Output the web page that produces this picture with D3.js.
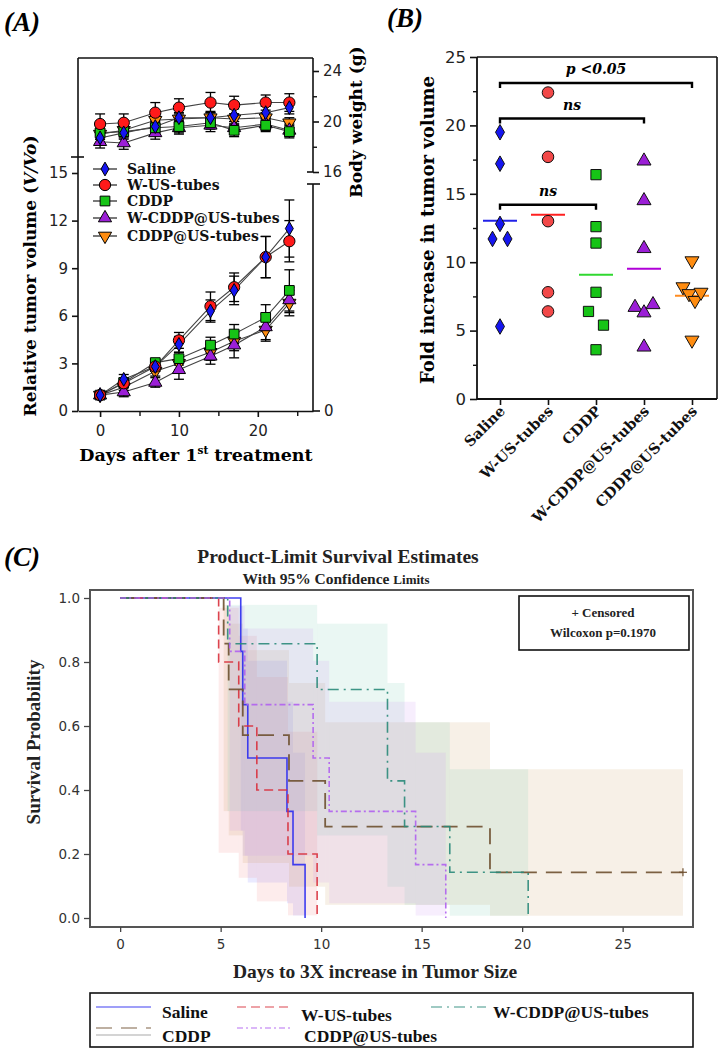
<!DOCTYPE html>
<html><head><meta charset="utf-8">
<script src="https://cdn.jsdelivr.net/npm/d3@7"></script>
<style>body{margin:0;background:#fff} svg{display:block}</style>
</head><body><svg id="c" width="719" height="1050"></svg>
<script>
// ================= DATA =================
const groups = ["Saline","W-US-tubes","CDDP","W-CDDP@US-tubes","CDDP@US-tubes"];
// Panel A: relative tumor volume & body weight
const days = [0,3,7,10,14,17,21,24];
const volSaline   = [1.0,2.0,2.8,4.2,6.3,7.6,9.7,11.5];
const volWUS      = [1.0,1.75,2.8,4.45,6.6,7.8,9.7,10.7];
const volCDDP     = [1.0,1.8,3.05,3.3,4.15,4.85,5.9,7.6];
const volWCDDPUS  = [1.0,1.2,1.8,2.6,3.45,4.15,5.3,7.0];
const volCDDPUS   = [1.0,1.5,2.5,3.0,3.7,4.4,5.1,6.8];
const volErrSaline  = [0.1,0.3,0.3,0.5,0.7,0.9,1.3,1.8];
const volErrWUS     = [0.1,0.3,0.3,0.5,0.9,0.9,1.3,1.3];
const volErrCDDP    = [0.1,0.2,0.2,0.4,0.5,0.6,0.8,1.3];
const volErrWCDDPUS = [0.1,0.3,0.3,0.6,0.5,0.8,0.8,0.8];
const volErrCDDPUS  = [0.1,0.2,0.3,0.4,0.5,0.6,0.7,0.8];
const wSaline   = [18.7,19.1,19.6,20.3,20.3,20.5,20.7,21.1];
const wWUS      = [19.8,19.9,20.7,21.1,21.5,21.3,21.5,21.5];
const wCDDP     = [19.1,19.2,19.5,19.6,19.9,19.3,19.7,19.2];
const wWCDDPUS  = [18.4,18.3,19.1,19.5,19.7,19.5,19.8,19.3];
const wCDDPUS   = [19.0,19.3,20.1,20.2,20.3,20.2,20.3,19.9];
const wErrSaline  = [0.5,0.5,0.5,0.4,0.5,0.5,0.5,0.5];
const wErrWUS     = [0.8,0.7,0.8,0.7,0.8,0.7,0.6,0.7];
const wErrCDDP    = [0.5,0.5,0.5,0.5,0.5,0.5,0.5,0.5];
const wErrWCDDPUS = [0.5,0.5,0.5,0.5,0.5,0.5,0.5,0.5];
const wErrCDDPUS  = [0.4,0.4,0.4,0.4,0.4,0.4,0.4,0.4];
const volTicks = [0,3,6,9,12,15];
const weightTicks = [16,20,24];
const dayTicks = [0,10,20];
// Panel B: fold increase in tumor volume
const foldSaline  = [19.5,17.2,12.8,11.7,11.7,5.3];
const foldWUS     = [22.4,17.7,13.0,7.8,6.4];
const foldCDDP    = [16.4,12.6,11.4,7.8,6.4,5.4,3.6];
const foldWCDDPUS = [17.4,14.5,11.0,6.7,6.3,6.9,3.8];
const foldCDDPUS  = [10.1,8.2,7.7,7.2,7.8,4.3];
const foldTicks = [0,5,10,15,20,25];
const brackets = [
  {from:"Saline", to:"CDDP@US-tubes", level:23.1, label:"p <0.05"},
  {from:"Saline", to:"W-CDDP@US-tubes", level:20.5, label:"ns"},
  {from:"Saline", to:"CDDP", level:14.2, label:"ns"}
];
// Panel C: Kaplan-Meier (event times in days, censored times)
const kmSalineEvents   = [6.0,6.1,6.35,8.3,8.6,9.2];
const kmWUSEvents      = [4.9,5.9,6.8,8.35,9.8];
const kmCDDPEvents     = [5.15,5.4,6.1,8.4,10.2,18.4];
const kmCDDPCensored   = [28.0];
const kmWCDDPUSEvents  = [5.35,9.8,13.3,13.3,14.15,16.4,20.3];
const kmCDDPUSEvents   = [5.45,6.2,9.6,10.4,14.7,16.2];
const survTicks = [0,0.2,0.4,0.6,0.8,1.0];
const survDayTicks = [0,5,10,15,20,25];

// ================= SETUP =================
const svg = d3.select("#c");
const SERIF = "'DejaVu Serif', serif";
const SERIF_C = "'Liberation Serif', serif";
const SANS = "'DejaVu Sans', Verdana, sans-serif";

const markerTypes = [d3.symbolDiamond, d3.symbolCircle, d3.symbolSquare, d3.symbolTriangle, d3.symbolTriangle];
const markerRot = [0,0,0,0,180];
const markerFillA = ["#1515f0","#ff1a1a","#16c416","#9b1fd6","#ff8c10"];
const markerSizeA = [55,100,95,75,75];

function line(g,x1,y1,x2,y2,w,c){ return g.append("line").attr("x1",x1).attr("y1",y1).attr("x2",x2).attr("y2",y2)
  .attr("stroke",c||"#111").attr("stroke-width",w||1.6); }

// ================= PANEL A =================
const A = svg.append("g");
A.append("text").attr("x",4).attr("y",31).attr("font-family",SERIF_C).attr("font-weight","bold")
  .attr("font-style","italic").attr("font-size",27).text("(A)");
const xA = d3.scaleLinear().domain([-2.8,27]).range([78,313]);
const yA = d3.scaleLinear().domain([0,15]).range([411,173]);
const yW = d3.scaleLinear().domain([16,24]).range([172,71]);

// frame lines
line(A,78,58,313,58);
line(A,78,58,78,411);
line(A,71,157,84,157);
line(A,313,58,313,172);
line(A,313,184,313,411);
line(A,307,184,320,184);
// bottom axis
const axB = A.append("g").attr("transform","translate(0,411)")
  .call(d3.axisBottom(xA).tickValues(dayTicks).tickSize(6).tickSizeOuter(0).tickPadding(8));
axB.select(".domain").attr("stroke","#111").attr("stroke-width",1.6);
axB.selectAll(".tick line").attr("stroke","#111").attr("stroke-width",1.6);
axB.selectAll("text").attr("font-family",SANS).attr("font-size",15).attr("fill","#222");
A.append("g").attr("transform","translate(0,411)")
  .call(d3.axisBottom(xA).tickValues([5,15,25]).tickSize(5).tickFormat(""))
  .call(g=>{g.select(".domain").remove(); g.selectAll("line").attr("stroke","#111").attr("stroke-width",1.4);});
// left axis
const axL = A.append("g").attr("transform","translate(78,0)")
  .call(d3.axisLeft(yA).tickValues(volTicks).tickSize(6).tickPadding(4));
axL.select(".domain").remove();
axL.selectAll(".tick line").attr("stroke","#111").attr("stroke-width",1.6);
axL.selectAll("text").attr("font-family",SANS).attr("font-size",15).attr("fill","#222");
// right weight axis
const axR = A.append("g").attr("transform","translate(313,0)")
  .call(d3.axisRight(yW).tickValues(weightTicks).tickSize(6).tickPadding(4));
axR.select(".domain").remove();
axR.selectAll(".tick line").attr("stroke","#111").attr("stroke-width",1.6);
axR.selectAll("text").attr("font-family",SANS).attr("font-size",15).attr("fill","#222");
A.append("g").attr("transform","translate(313,0)")
  .call(d3.axisRight(yW).tickValues([18,22]).tickSize(4).tickFormat(""))
  .call(g=>{g.select(".domain").remove(); g.selectAll("line").attr("stroke","#111").attr("stroke-width",1.4);});
line(A,307,172,313,172);
line(A,313,411,320,411);
A.append("text").attr("x",324).attr("y",411).attr("dy","0.35em").attr("font-family",SANS).attr("font-size",15).attr("fill","#222").text("0");

// axis titles
A.append("text").attr("x",196).attr("y",461).attr("text-anchor","middle").attr("font-family",SERIF)
  .attr("font-weight","bold").attr("font-size",17.5)
  .call(t=>{t.append("tspan").text("Days after 1");t.append("tspan").attr("font-size",10.5).attr("dy",-7).text("st");
            t.append("tspan").attr("dy",7).text(" treatment");});
A.append("text").attr("transform","translate(36,276) rotate(-90)").attr("text-anchor","middle")
  .attr("font-family",SERIF).attr("font-weight","bold").attr("font-size",17)
  .call(t=>{t.append("tspan").text("Relative tumor volume (");t.append("tspan").attr("font-style","italic").text("V/Vo");t.append("tspan").text(")");});
A.append("text").attr("transform","translate(362,122) rotate(-90)").attr("text-anchor","middle")
  .attr("font-family",SERIF).attr("font-weight","bold").attr("font-size",17).text("Body weight (g)");

const volSeries = [volSaline,volWUS,volCDDP,volWCDDPUS,volCDDPUS];
const volErr = [volErrSaline,volErrWUS,volErrCDDP,volErrWCDDPUS,volErrCDDPUS];
const wSeries = [wSaline,wWUS,wCDDP,wWCDDPUS,wCDDPUS];
const wErr = [wErrSaline,wErrWUS,wErrCDDP,wErrWCDDPUS,wErrCDDPUS];

function drawSeries(g, series, errs, yS) {
  const order = [4,3,2,1,0];
  const lg = d3.line().x((d,i)=>xA(days[i])).y(d=>yS(d));
  order.forEach(k=>{
    g.append("path").attr("d",lg(series[k])).attr("fill","none").attr("stroke","#444").attr("stroke-width",1.1);
  });
  order.forEach(k=>{
    series[k].forEach((v,i)=>{
      const e = errs[k][i], x = xA(days[i]);
      const y1 = yS(v+e), y2 = yS(v-e);
      line(g,x,y1,x,y2,1.3,"#000");
      line(g,x-5,y1,x+5,y1,1.3,"#000");
      line(g,x-5,y2,x+5,y2,1.3,"#000");
    });
  });
  order.forEach(k=>{
    g.selectAll(null).data(series[k]).enter().append("path")
      .attr("d",d3.symbol().type(markerTypes[k]).size(markerSizeA[k]))
      .attr("transform",(d,i)=>`translate(${xA(days[i])},${yS(d)}) rotate(${markerRot[k]})`)
      .attr("fill",markerFillA[k]).attr("stroke","#000").attr("stroke-width",1);
  });
}
drawSeries(A.append("g"), wSeries, wErr, yW);
drawSeries(A.append("g"), volSeries, volErr, yA);

// legend A
const legA = A.append("g");
const legRowsA = [169,185,201,218,236];
groups.forEach((gname,k)=>{
  const y = legRowsA[k];
  line(legA,93,y,117,y,1.2,"#222");
  legA.append("path").attr("d",d3.symbol().type(markerTypes[k]).size(markerSizeA[k]))
    .attr("transform",`translate(105,${y}) rotate(${markerRot[k]})`)
    .attr("fill",markerFillA[k]).attr("stroke","#000").attr("stroke-width",1);
  legA.append("text").attr("x",127).attr("y",y).attr("dy","0.35em").attr("font-family",SERIF)
    .attr("font-weight","bold").attr("font-size",14).attr("fill","#111").text(gname);
});

// ================= PANEL B =================
const B = svg.append("g");
B.append("text").attr("x",387).attr("y",27).attr("font-family",SERIF_C).attr("font-weight","bold")
  .attr("font-style","italic").attr("font-size",27).text("(B)");
const yB = d3.scaleLinear().domain([0,25]).range([399,57]);
const xB = d3.scalePoint().domain(groups).range([500,692]);
line(B,477,57,717,57);
line(B,717,57,717,399);
line(B,477,57,477,399,1.8);
line(B,477,399,717,399,1.8);
const axBL = B.append("g").attr("transform","translate(477,0)")
  .call(d3.axisLeft(yB).tickValues(foldTicks).tickSize(7).tickPadding(4));
axBL.select(".domain").remove();
axBL.selectAll(".tick line").attr("stroke","#111").attr("stroke-width",1.6);
axBL.selectAll("text").attr("font-family",SANS).attr("font-size",16.5).attr("fill","#222");
B.append("g").attr("transform","translate(477,0)")
  .call(d3.axisLeft(yB).tickValues([2.5,7.5,12.5,17.5,22.5]).tickSize(4).tickFormat(""))
  .call(g=>{g.select(".domain").remove(); g.selectAll("line").attr("stroke","#111").attr("stroke-width",1.4);});
const axBB = B.append("g").attr("transform","translate(0,399)")
  .call(d3.axisBottom(xB).tickSize(6).tickFormat(""));
axBB.select(".domain").remove();
axBB.selectAll(".tick line").attr("stroke","#111").attr("stroke-width",1.6);
groups.forEach(gname=>{
  B.append("text").attr("transform",`translate(${xB(gname)+6},${412}) rotate(-45)`)
    .attr("text-anchor","end").attr("font-family",SERIF).attr("font-weight","bold").attr("font-size",14.5)
    .attr("fill","#111").text(gname);
});
B.append("text").attr("transform","translate(434,230) rotate(-90)").attr("text-anchor","middle")
  .attr("font-family",SERIF).attr("font-weight","bold").attr("font-size",18).text("Fold increase in tumor volume");

const foldSeries = [foldSaline,foldWUS,foldCDDP,foldWCDDPUS,foldCDDPUS];
const markerFillB = ["#1515f0","#f24848","#16c416","#9b1fd6","#ff8c10"];
const meanColB = ["#2020e8","#ff2020","#30d830","#b000d8","#ff8c20"];
const markerSizeB = [70,105,105,85,85];
// simple dodge: cluster points whose pixel y are close, spread horizontally
function dodge(vals){
  const idx = vals.map((v,i)=>i).sort((a,b)=>vals[b]-vals[a]);
  const clusters=[]; let cur=[idx[0]];
  for(let j=1;j<idx.length;j++){
    if (Math.abs(yB(vals[idx[j]])-yB(vals[cur[cur.length-1]]))<14) cur.push(idx[j]); else {clusters.push(cur); cur=[idx[j]];}
  }
  clusters.push(cur);
  const off = new Array(vals.length).fill(0);
  clusters.forEach(c=>{
    c.sort((a,b)=>a-b);
    const n=c.length; if(n<2) return;
    const sp = Math.min(15, 18/(n-1));
    c.forEach((i,j)=>off[i]=(j-(n-1)/2)*sp);
  });
  return off;
}
foldSeries.forEach((vals,k)=>{
  const cx = xB(groups[k]);
  const m = d3.mean(vals);
  line(B,cx-17,yB(m),cx+17,yB(m),2,meanColB[k]);
  const off = dodge(vals);
  B.selectAll(null).data(vals).enter().append("path")
    .attr("d",d3.symbol().type(markerTypes[k]).size(markerSizeB[k]))
    .attr("transform",(d,i)=>`translate(${cx+off[i]},${yB(d)}) rotate(${markerRot[k]})`)
    .attr("fill",markerFillB[k]).attr("stroke","#111").attr("stroke-width",1);
});
brackets.forEach(b=>{
  const x1 = xB(b.from), x2 = xB(b.to), y = yB(b.level);
  B.append("path").attr("d",`M${x1},${y+5}V${y}H${x2}V${y+5}`).attr("fill","none")
    .attr("stroke","#000").attr("stroke-width",2.4);
  B.append("text").attr("x",(x1+x2)/2).attr("y",y-9).attr("text-anchor","middle")
    .attr("font-family",SERIF).attr("font-weight","bold").attr("font-style","italic").attr("font-size",14).text(b.label);
});

// ================= PANEL C =================
const C = svg.append("g");
C.append("text").attr("x",4).attr("y",566).attr("font-family",SERIF_C).attr("font-weight","bold")
  .attr("font-style","italic").attr("font-size",27).text("(C)");
C.append("text").attr("x",338).attr("y",563).attr("text-anchor","middle").attr("font-family",SERIF_C)
  .attr("font-weight","bold").attr("font-size",19.5).attr("fill","#222").text("Product-Limit  Survival Estimates");
C.append("text").attr("x",336).attr("y",584).attr("text-anchor","middle").attr("font-family",SERIF_C)
  .attr("font-weight","bold").attr("font-size",15.5).attr("fill","#222")
  .call(t=>{t.append("tspan").text("With 95% Confidence ");t.append("tspan").attr("font-size",13).text("Limits");});

const xC = d3.scaleLinear().domain([-1.5,28.5]).range([90,693]);
const yC = d3.scaleLinear().domain([0,1]).range([918,598]);

const kmGroups = [
  {name:"Saline", ev:kmSalineEvents, cen:[], col:"#2b2bf0", band:"#7070ff", dash:null, w:1.6},
  {name:"W-US-tubes", ev:kmWUSEvents, cen:[], col:"#d8303c", band:"#f08080", dash:"9,5", w:1.6},
  {name:"CDDP", ev:kmCDDPEvents, cen:kmCDDPCensored, col:"#6e5030", band:"#c89a60", dash:"16,9", w:1.8},
  {name:"W-CDDP@US-tubes", ev:kmWCDDPUSEvents, cen:[], col:"#2a8a7a", band:"#70c8b0", dash:"11,5,2,5", w:1.6},
  {name:"CDDP@US-tubes", ev:kmCDDPUSEvents, cen:[], col:"#b060f0", band:"#c890f0", dash:"6,3,2,3", w:1.6}
];
function km(ev, cen){
  const n = ev.length + cen.length;
  const times = Array.from(new Set(ev.concat(cen))).sort((a,b)=>a-b);
  let risk=n, S=1, G=0; const steps=[{t:0,S:1}];
  times.forEach(t=>{
    const d = ev.filter(e=>e===t).length, c = cen.filter(e=>e===t).length;
    if(d>0){
      S *= (risk-d)/risk;
      if(risk-d>0) G += d/(risk*(risk-d));
      let lo=null, hi=null;
      if(S>0 && S<1){
        const cc = 1.96*Math.sqrt(G)/Math.abs(Math.log(S));
        lo = Math.pow(S, Math.exp(cc)); hi = Math.pow(S, Math.exp(-cc));
      }
      steps.push({t,S,lo,hi});
    }
    risk -= d + c;
  });
  const end = cen.length ? d3.max(cen) : steps[steps.length-1].t;
  return {steps, end};
}
const plotC = C.append("g");
plotC.append("defs").append("clipPath").attr("id","clipC").append("rect").attr("x",90).attr("y",590).attr("width",603).attr("height",337);
const bandG = plotC.append("g").attr("clip-path","url(#clipC)");
const curveG = plotC.append("g");
kmGroups.forEach(gr=>{
  const r = km(gr.ev, gr.cen);
  const st = r.steps;
  for(let i=1;i<st.length;i++){
    if(st[i].lo===null) continue;
    const t1 = st[i].t, t2 = (i+1<st.length)? st[i+1].t : r.end;
    bandG.append("rect").attr("x",xC(t1)).attr("width",xC(t2)-xC(t1))
      .attr("y",yC(st[i].hi)).attr("height",yC(st[i].lo)-yC(st[i].hi))
      .attr("fill",gr.band).attr("fill-opacity",0.15);
  }
});
kmGroups.forEach(gr=>{
  const r = km(gr.ev, gr.cen);
  const st = r.steps;
  let d = `M${xC(0)},${yC(1)}`;
  for(let i=1;i<st.length;i++){ d += `H${xC(st[i].t)}V${yC(st[i].S)}`; }
  if(st[st.length-1].S>0) d += `H${xC(r.end)}`;
  const p = curveG.append("path").attr("d",d).attr("fill","none").attr("stroke",gr.col)
    .attr("stroke-width",gr.w).attr("stroke-opacity",0.9);
  if(gr.dash) p.attr("stroke-dasharray",gr.dash);
  gr.cen.forEach(t=>{
    const x=xC(t), y=yC(st[st.length-1].S);
    line(curveG,x-4,y,x+4,y,1.2,gr.col); line(curveG,x,y-4,x,y+4,1.2,gr.col);
  });
});
// frame
C.append("rect").attr("x",90).attr("y",590).attr("width",603).attr("height",337)
  .attr("fill","none").attr("stroke","#555").attr("stroke-width",2);
const axCL = C.append("g").attr("transform","translate(90,0)")
  .call(d3.axisLeft(yC).tickValues(survTicks).tickFormat(d3.format(".1f")).tickSize(6).tickPadding(4));
axCL.select(".domain").remove();
axCL.selectAll(".tick line").attr("stroke","#444").attr("stroke-width",1.3);
axCL.selectAll("text").attr("font-family",SANS).attr("font-size",13.5).attr("fill","#333");
const axCB = C.append("g").attr("transform","translate(0,927)")
  .call(d3.axisBottom(xC).tickValues(survDayTicks).tickSize(5).tickPadding(7));
axCB.select(".domain").remove();
axCB.selectAll(".tick line").attr("stroke","#444").attr("stroke-width",1.3);
axCB.selectAll("text").attr("font-family",SANS).attr("font-size",13.5).attr("fill","#333");
C.append("text").attr("x",375).attr("y",978).attr("text-anchor","middle").attr("font-family",SERIF_C)
  .attr("font-weight","bold").attr("font-size",19.5).attr("fill","#222").text("Days to 3X increase in Tumor Size");
C.append("text").attr("transform","translate(40,742) rotate(-90)").attr("text-anchor","middle").attr("font-family",SERIF_C)
  .attr("font-weight","bold").attr("font-size",19).attr("fill","#222").text("Survival Probability");
// inset box
C.append("rect").attr("x",519).attr("y",596).attr("width",170).attr("height",54).attr("fill","#fff")
  .attr("stroke","#111").attr("stroke-width",1.6);
C.append("text").attr("x",603).attr("y",617).attr("text-anchor","middle").attr("font-family",SERIF_C)
  .attr("font-weight","bold").attr("font-size",13).attr("fill","#222").text("+ Censored");
C.append("text").attr("x",603).attr("y",637).attr("text-anchor","middle").attr("font-family",SERIF_C)
  .attr("font-weight","bold").attr("font-size",13).attr("fill","#222").text("Wilcoxon p=0.1970");

// legend C
const legC = C.append("g");
legC.append("rect").attr("x",90).attr("y",993).attr("width",603).attr("height",54).attr("fill","#fff")
  .attr("stroke","#111").attr("stroke-width",1.6);
const legPos = [
  {k:0, lx:96, ly:1007, tx:162, ty:1018},
  {k:1, lx:237, ly:1007, tx:301, ty:1021},
  {k:3, lx:431, ly:1007, tx:493, ty:1018},
  {k:2, lx:96, ly:1028, tx:162, ty:1042},
  {k:4, lx:237, ly:1028, tx:304, ty:1042}
];
legPos.forEach(p=>{
  const gr = kmGroups[p.k];
  const l = line(legC,p.lx,p.ly,p.lx+55,p.ly,2.2,gr.col).attr("stroke-opacity",0.45);
  if(gr.dash) l.attr("stroke-dasharray",gr.dash);
  legC.append("text").attr("x",p.tx).attr("y",p.ty).attr("font-family",SERIF_C).attr("font-weight","bold")
    .attr("font-size",17.5).attr("fill","#111").text(gr.name);
});
line(legC,96,1035,151,1035,1.2,"#aaa");
</script></body></html>
